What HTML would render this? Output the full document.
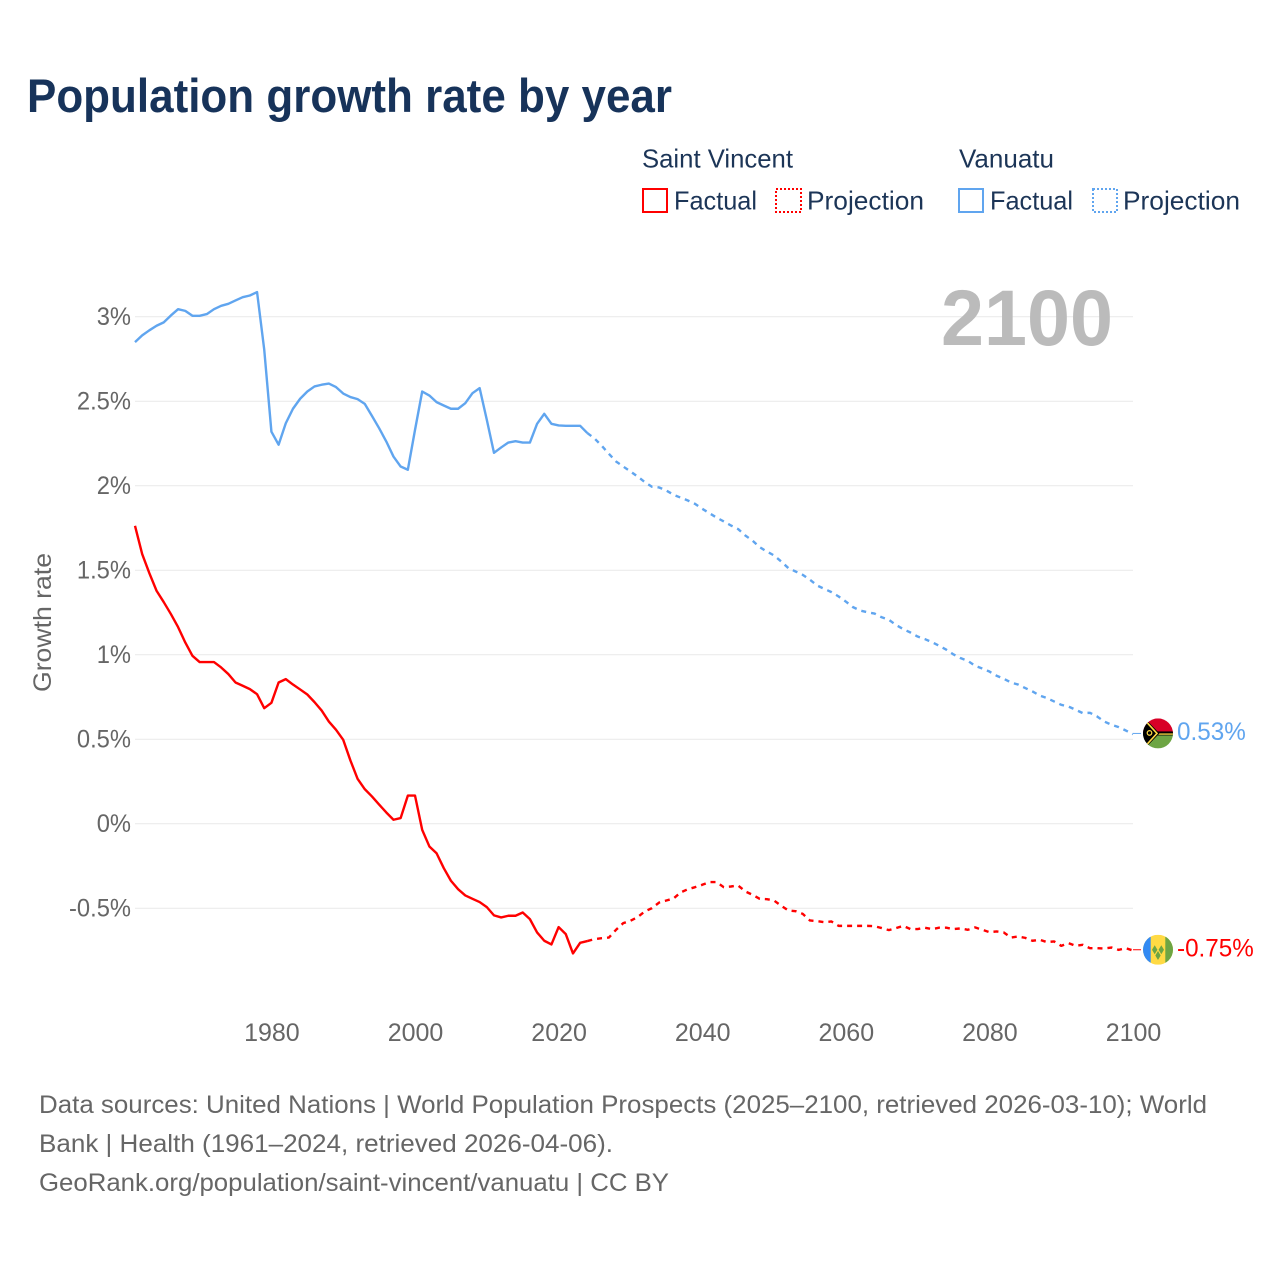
<!DOCTYPE html>
<html lang="en">
<head>
<meta charset="utf-8">
<title>Population growth rate by year</title>
<style>
html,body{margin:0;padding:0;background:#fff;}
svg{display:block;}
text{font-family:"Liberation Sans",sans-serif;}
</style>
</head>
<body>
<svg id="chart" xmlns="http://www.w3.org/2000/svg" width="1280" height="1280" viewBox="0 0 1280 1280">
  <rect width="1280" height="1280" fill="#fff"/>
  <text x="27" y="112" font-size="47" font-weight="700" fill="#17335a" textLength="645" lengthAdjust="spacingAndGlyphs">Population growth rate by year</text>

  <g font-size="26" fill="#1c3557">
    <text x="642" y="167.5" textLength="151" lengthAdjust="spacingAndGlyphs">Saint Vincent</text>
    <text x="959" y="167.5" textLength="95" lengthAdjust="spacingAndGlyphs">Vanuatu</text>
    <g>
      <rect x="643" y="189" width="24" height="23" fill="none" stroke="#ff0000" stroke-width="2"/>
      <text x="674" y="209.5" textLength="83" lengthAdjust="spacingAndGlyphs">Factual</text>
    </g>
    <g>
      <rect x="776" y="189" width="25" height="23" fill="none" stroke="#ff0000" stroke-width="2" stroke-dasharray="2 2"/>
      <text x="807" y="209.5" textLength="117" lengthAdjust="spacingAndGlyphs">Projection</text>
    </g>
    <g>
      <rect x="959" y="189" width="24" height="23" fill="none" stroke="#60a5ef" stroke-width="2"/>
      <text x="990" y="209.5" textLength="83" lengthAdjust="spacingAndGlyphs">Factual</text>
    </g>
    <g>
      <rect x="1093" y="189" width="24" height="23" fill="none" stroke="#60a5ef" stroke-width="2" stroke-dasharray="2 2"/>
      <text x="1123" y="209.5" textLength="117" lengthAdjust="spacingAndGlyphs">Projection</text>
    </g>
  </g>

  <g id="grid"></g>
  <g id="y-ticks" font-size="25" fill="#666"></g>
  <g id="x-ticks" font-size="25" fill="#666"></g>
  <text transform="translate(51,692) rotate(-90)" font-size="25" fill="#666" textLength="139" lengthAdjust="spacingAndGlyphs">Growth rate</text>
  <text id="year-label" x="1113" y="345" text-anchor="end" font-size="79" font-weight="700" fill="#bbbbbb" textLength="172" lengthAdjust="spacingAndGlyphs"></text>

  <g id="series"></g>

  <defs>
    <clipPath id="flag-clip"><circle cx="0" cy="0" r="15"/></clipPath>
  </defs>
  <g id="flag-vanuatu">
    <g clip-path="url(#flag-clip)">
      <rect x="-15" y="-15" width="30" height="15" fill="#d80027"/>
      <rect x="-15" y="0" width="30" height="15" fill="#6da544"/>
      <rect x="-15" y="-2" width="30" height="4" fill="#000"/>
      <rect x="0" y="0" width="15" height="1.3" fill="#ffda44"/>
      <polygon points="-15,-15 -13,-15 1.5,0 -13,15 -15,15" fill="#000"/>
      <polyline points="-12,-12 -1,0 -12,12" fill="none" stroke="#ffda44" stroke-width="1.6"/>
      <circle cx="-8.5" cy="-0.5" r="2.3" fill="none" stroke="#ffda44" stroke-width="1.2"/>
    </g>
  </g>
  <g id="flag-saint-vincent">
    <g clip-path="url(#flag-clip)">
      <rect x="-15" y="-15" width="30" height="30" fill="#ffda44"/>
      <rect x="-15" y="-15" width="7.7" height="30" fill="#338af3"/>
      <rect x="7.3" y="-15" width="7.7" height="30" fill="#6da544"/>
      <polygon points="-3.3,-4.5 -0.6,0 -3.3,4.5 -6,0" fill="#6da544"/>
      <polygon points="3.3,-4.5 6,0 3.3,4.5 0.6,0" fill="#6da544"/>
      <polygon points="0,1.2 2.7,5.7 0,10.2 -2.7,5.7" fill="#6da544"/>
    </g>
  </g>

  <g font-size="25" fill="#666">
    <text x="39" y="1113" textLength="1168" lengthAdjust="spacingAndGlyphs">Data sources: United Nations | World Population Prospects (2025–2100, retrieved 2026-03-10); World</text>
    <text x="39" y="1152" textLength="574" lengthAdjust="spacingAndGlyphs">Bank | Health (1961–2024, retrieved 2026-04-06).</text>
    <text x="39" y="1191" textLength="630" lengthAdjust="spacingAndGlyphs">GeoRank.org/population/saint-vincent/vanuatu | CC BY</text>
  </g>
</svg>
<script>
const factualYears = [1961,1962,1963,1964,1965,1966,1967,1968,1969,1970,1971,1972,1973,1974,1975,1976,1977,1978,1979,1980,1981,1982,1983,1984,1985,1986,1987,1988,1989,1990,1991,1992,1993,1994,1995,1996,1997,1998,1999,2000,2001,2002,2003,2004,2005,2006,2007,2008,2009,2010,2011,2012,2013,2014,2015,2016,2017,2018,2019,2020,2021,2022,2023,2024];
const projectionYears = [2024,2025,2026,2027,2028,2029,2030,2031,2032,2033,2034,2035,2036,2037,2038,2039,2040,2041,2042,2043,2044,2045,2046,2047,2048,2049,2050,2051,2052,2053,2054,2055,2056,2057,2058,2059,2060,2061,2062,2063,2064,2065,2066,2067,2068,2069,2070,2071,2072,2073,2074,2075,2076,2077,2078,2079,2080,2081,2082,2083,2084,2085,2086,2087,2088,2089,2090,2091,2092,2093,2094,2095,2096,2097,2098,2099,2100];
const vanuatuFactual = [2.85,2.89,2.92,2.947,2.967,3.008,3.045,3.035,3.006,3.006,3.016,3.045,3.065,3.077,3.097,3.116,3.126,3.146,2.805,2.32,2.243,2.37,2.456,2.515,2.558,2.588,2.598,2.605,2.584,2.546,2.525,2.513,2.485,2.414,2.341,2.262,2.173,2.114,2.095,2.331,2.558,2.534,2.495,2.475,2.456,2.456,2.489,2.548,2.578,2.39,2.195,2.227,2.256,2.264,2.256,2.256,2.367,2.426,2.367,2.357,2.355,2.355,2.355,2.312];
const vanuatuProjection = [2.312,2.28,2.237,2.189,2.144,2.114,2.085,2.055,2.022,1.994,1.99,1.972,1.947,1.93,1.913,1.893,1.864,1.838,1.812,1.789,1.765,1.744,1.706,1.676,1.637,1.611,1.588,1.552,1.513,1.493,1.473,1.444,1.41,1.39,1.371,1.345,1.315,1.282,1.262,1.252,1.244,1.222,1.207,1.176,1.152,1.132,1.108,1.093,1.075,1.053,1.03,1.002,0.98,0.964,0.935,0.919,0.901,0.876,0.858,0.836,0.824,0.803,0.783,0.759,0.744,0.724,0.704,0.694,0.675,0.655,0.657,0.635,0.605,0.586,0.572,0.552,0.53];
const saintVincentFactual = [1.763,1.596,1.483,1.379,1.312,1.241,1.164,1.073,0.994,0.957,0.957,0.957,0.925,0.886,0.836,0.817,0.797,0.767,0.684,0.716,0.836,0.856,0.824,0.795,0.765,0.72,0.67,0.605,0.556,0.497,0.375,0.266,0.205,0.162,0.114,0.067,0.024,0.034,0.167,0.167,-0.036,-0.134,-0.174,-0.262,-0.337,-0.387,-0.424,-0.444,-0.463,-0.493,-0.542,-0.554,-0.544,-0.544,-0.525,-0.564,-0.643,-0.692,-0.714,-0.611,-0.653,-0.767,-0.704,-0.694];
const saintVincentProjection = [-0.694,-0.682,-0.677,-0.673,-0.627,-0.588,-0.574,-0.552,-0.519,-0.499,-0.466,-0.454,-0.442,-0.406,-0.387,-0.375,-0.361,-0.345,-0.345,-0.375,-0.371,-0.365,-0.4,-0.42,-0.444,-0.446,-0.454,-0.485,-0.513,-0.517,-0.533,-0.572,-0.576,-0.582,-0.578,-0.604,-0.604,-0.604,-0.604,-0.604,-0.606,-0.617,-0.629,-0.617,-0.604,-0.623,-0.623,-0.615,-0.623,-0.615,-0.615,-0.623,-0.619,-0.627,-0.613,-0.627,-0.641,-0.637,-0.643,-0.673,-0.667,-0.675,-0.692,-0.686,-0.7,-0.696,-0.722,-0.706,-0.722,-0.716,-0.736,-0.736,-0.738,-0.732,-0.746,-0.736,-0.75];
const xTickYears = [1980,2000,2020,2040,2060,2080,2100];
const yTickValues = [3,2.5,2,1.5,1,0.5,0,-0.5];

const SVG_NS = 'http://www.w3.org/2000/svg';
const RED = '#ff0000';
const BLUE = '#60a5ef';
const xScale = function (year) { return 135 + (year - 1961) * 7.18; };
const yScale = function (value) { return 823.8 - value * 169; };
const flagOffset = -0.8;

function make(tag, attrs, parent) {
  const el = document.createElementNS(SVG_NS, tag);
  Object.keys(attrs).forEach(function (k) { el.setAttribute(k, attrs[k]); });
  parent.appendChild(el);
  return el;
}
function linePath(years, values) {
  return years.map(function (yr, i) {
    return (i ? 'L' : 'M') + xScale(yr).toFixed(2) + ' ' + yScale(values[i]).toFixed(2);
  }).join(' ');
}
function condense(textEl, factor) {
  const width = textEl.getComputedTextLength();
  textEl.setAttribute('textLength', (width * factor).toFixed(1));
  textEl.setAttribute('lengthAdjust', 'spacingAndGlyphs');
}

const gridGroup = document.getElementById('grid');
const yTickGroup = document.getElementById('y-ticks');
yTickValues.forEach(function (v) {
  const line = make('line', {x1: 135, x2: 1133, y1: yScale(v), y2: yScale(v), stroke: '#e9e9e9', 'stroke-width': 1}, gridGroup);
  
  
  const label = make('text', {x: 131, y: yScale(v) + 8, 'text-anchor': 'end'}, yTickGroup);
  
  
  label.textContent = v + '%';
  condense(label, 0.95);
});

const xTickGroup = document.getElementById('x-ticks');
xTickYears.forEach(function (yr) {
  const label = make('text', {x: xScale(yr) + 0.5, y: 1041, 'text-anchor': 'middle'}, xTickGroup);
  
  
  label.textContent = yr;
});

document.getElementById('year-label').textContent = projectionYears[projectionYears.length - 1];

const seriesGroup = document.getElementById('series');
function drawSeries(key, color, factual, projection, flagId, labelX) {
  const solid = make('path', {d: linePath(factualYears, factual), fill: 'none', stroke: color, 'stroke-width': 2.4, 'stroke-linejoin': 'round'}, seriesGroup);
  
  
  const dashed = make('path', {d: linePath(projectionYears, projection), fill: 'none', stroke: color, 'stroke-width': 2.4, 'stroke-dasharray': '5 5', 'stroke-linejoin': 'round'}, seriesGroup);
  
  
  const lastYear = projectionYears[projectionYears.length - 1];
  const lastValue = projection[projection.length - 1];
  const endY = yScale(lastValue) + flagOffset;
  const stub = make('line', {x1: xScale(lastYear), x2: xScale(lastYear) + 8, y1: endY, y2: endY, stroke: color, 'stroke-width': 1}, seriesGroup);
  
  
  document.getElementById(flagId).setAttribute('transform', 'translate(1158,' + endY + ')');
  const valueLabel = make('text', {x: labelX, y: endY + 6.5, 'font-size': 25, fill: color}, seriesGroup);
  
  
  valueLabel.textContent = lastValue + '%';
  condense(valueLabel, 0.97);
}
drawSeries('vanuatu', BLUE, vanuatuFactual, vanuatuProjection, 'flag-vanuatu', 1177);
drawSeries('saint-vincent', RED, saintVincentFactual, saintVincentProjection, 'flag-saint-vincent', 1177);
</script>
</body>
</html>
